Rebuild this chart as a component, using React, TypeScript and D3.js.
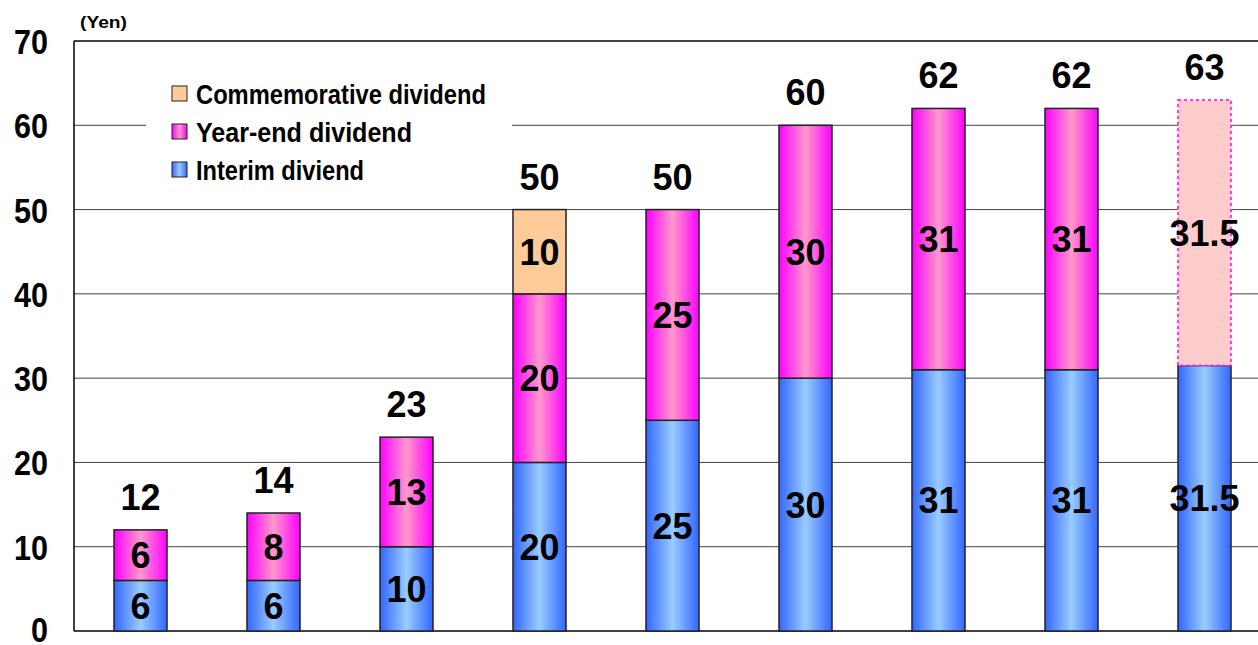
import * as d3 from "d3";

const categories = ["FY1", "FY2", "FY3", "FY4", "FY5", "FY6", "FY7", "FY8", "FY9"];
const interim = [6, 6, 10, 20, 25, 30, 31, 31, 31.5];
const yearEnd = [6, 8, 13, 20, 25, 30, 31, 31, 31.5];
const commemorative = [0, 0, 0, 10, 0, 0, 0, 0, 0];
const forecast = [false, false, false, false, false, false, false, false, true];
const yTicks = [0, 10, 20, 30, 40, 50, 60, 70];
const legendItems = ["Commemorative dividend", "Year-end dividend", "Interim diviend"];

const W = 1258;
const H = 645;
const margin = { left: 74, top: 41, bottom: 14 };
const plotRight = 74 + 9 * 133;

const FONT = "'Liberation Sans', Arial, sans-serif";

export default function App() {
  const x = d3.scaleBand().domain(categories).range([margin.left, plotRight]).paddingInner(0.6).paddingOuter(0.3);
  const y = d3.scaleLinear().domain([0, 70]).range([H - margin.bottom, margin.top]);
  const bw = 53;
  const cx = (c: string) => (x(c) as number) + x.bandwidth() / 2;

  const fmt = (v: number) => (Number.isInteger(v) ? String(v) : v.toFixed(1));
  const legendFills = ["#ffcc99", "url(#pink)", "url(#blue)"];
  const legendLens = [290, 216, 168];

  return (
    <svg width={W} height={H} style={{ position: "absolute", left: 0, top: 0, background: "#fff" }}>
      <defs>
        <linearGradient id="blue" x1="0" x2="1" y1="0" y2="0">
          <stop offset="0" stopColor="#3366ff" />
          <stop offset="0.5" stopColor="#99ccff" />
          <stop offset="1" stopColor="#3366ff" />
        </linearGradient>
        <linearGradient id="pink" x1="0" x2="1" y1="0" y2="0">
          <stop offset="0" stopColor="#ff00ff" />
          <stop offset="0.5" stopColor="#ff99cc" />
          <stop offset="1" stopColor="#ff00ff" />
        </linearGradient>
      </defs>

      {/* grid */}
      {yTicks.map((t) => (
        <line key={t} x1={margin.left} x2={W} y1={y(t)} y2={y(t)}
          stroke={t === 0 || t === 70 ? "#000" : "#444"} strokeWidth={t === 0 || t === 70 ? 1.5 : 1} />
      ))}
      <line x1={margin.left} x2={margin.left} y1={y(70)} y2={y(0)} stroke="#000" strokeWidth={1.5} />

      {yTicks.map((t) => (
        <text key={t} x={48} y={Math.min(y(t) + 13, H - 3)} textAnchor="end" fontFamily={FONT} fontWeight="bold" fontSize={35}
          textLength={String(t).length * 17} lengthAdjust="spacingAndGlyphs" fill="#000">
          {t}
        </text>
      ))}
      <text x={80} y={28} fontFamily={FONT} fontSize={17} fontWeight="bold" textLength={47} lengthAdjust="spacingAndGlyphs">(Yen)</text>

      {/* legend */}
      <rect x={146} y={70} width={366} height={116} fill="#fff" />
      {legendItems.map((label, i) => (
        <g key={label} transform={`translate(172, ${86 + i * 38})`}>
          <rect x={0} y={0} width={15} height={15} fill={legendFills[i]} stroke="#222" strokeWidth={1} />
          <text x={24} y={18} fontFamily={FONT} fontWeight="bold" fontSize={27} textLength={legendLens[i]} lengthAdjust="spacingAndGlyphs">
            {label}
          </text>
        </g>
      ))}

      {/* bars */}
      {categories.map((c, i) => {
        const x0 = cx(c) - bw / 2;
        const b0 = 0;
        const b1 = interim[i];
        const b2 = b1 + yearEnd[i];
        const b3 = b2 + commemorative[i];
        const lab = { fontFamily: FONT, fontWeight: "bold", fontSize: 36, textAnchor: "middle" as const, fill: "#000" };
        return (
          <g key={c}>
            <rect x={x0} y={y(b1)} width={bw} height={y(b0) - y(b1)} fill="url(#blue)" stroke="#222" strokeWidth={1.5} />
            {forecast[i] ? (
              <rect x={x0} y={y(b2)} width={bw} height={y(b1) - y(b2)} fill="#ffcccc" stroke="#ff00ff" strokeWidth={1.5} strokeDasharray="3,3" />
            ) : (
              <rect x={x0} y={y(b2)} width={bw} height={y(b1) - y(b2)} fill="url(#pink)" stroke="#222" strokeWidth={1.5} />
            )}
            {commemorative[i] > 0 && (
              <rect x={x0} y={y(b3)} width={bw} height={y(b2) - y(b3)} fill="#ffcc99" stroke="#222" strokeWidth={1.5} />
            )}
            <text x={cx(c)} y={(y(b0) + y(b1)) / 2 + 13} {...lab}>{fmt(interim[i])}</text>
            <text x={cx(c)} y={(y(b1) + y(b2)) / 2 + 13} {...lab}>{fmt(yearEnd[i])}</text>
            {commemorative[i] > 0 && (
              <text x={cx(c)} y={(y(b2) + y(b3)) / 2 + 13} {...lab}>{fmt(commemorative[i])}</text>
            )}
            <text x={cx(c)} y={y(b3) - 20} {...lab}>{fmt(b3)}</text>
          </g>
        );
      })}
    </svg>
  );
}
